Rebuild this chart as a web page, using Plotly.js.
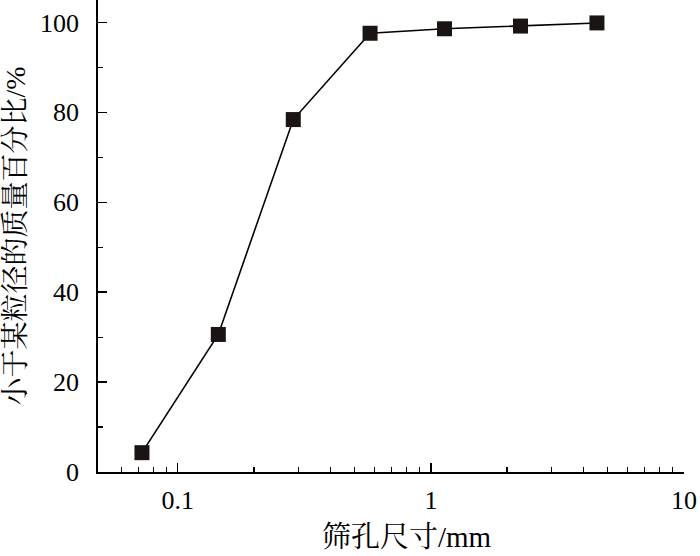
<!DOCTYPE html>
<html>
<head>
<meta charset="utf-8">
<script src="https://cdn.plot.ly/plotly-3.0.1.min.js"></script>
<style>html,body{margin:0;padding:0;background:#fff;}#chart{width:700px;height:556px;}</style>
</head>
<body>
<div id="chart"></div>
<script>
// Sieve opening size (mm) and cumulative passing percentage (%)
const sieveSize = [0.0722, 0.1446, 0.286, 0.575, 1.132, 2.26, 4.53];
const passingPct = [4.3, 30.6, 78.4, 97.6, 98.6, 99.2, 99.9];
const xTickVals = [0.1, 1, 10];
const xTickText = ['0.1', '1', '10'];
const xMinorVals = [0.06,0.07,0.08,0.09,0.2,0.3,0.4,0.5,0.6,0.7,0.8,0.9,2,3,4,5,6,7,8,9];
const yTickVals = [0, 20, 40, 60, 80, 100];
const yMinorVals = [10, 30, 50, 70, 90];
const xTitle = '筛孔尺寸/mm';
const yTitle = '小于某粒径的质量百分比/%';

const fontFam = 'Liberation Serif, Noto Serif CJK SC, Noto Sans CJK SC, serif';

const trace = {
  x: sieveSize, y: passingPct, type: 'scatter', mode: 'lines+markers',
  line: {color: '#000', width: 1.6},
  marker: {symbol: 'square', size: 15, color: '#1a1512', line: {width: 0}},
  cliponaxis: false
};

const layout = {
  width: 700, height: 556,
  margin: {l: 98, r: 16, t: 0, b: 84},
  paper_bgcolor: '#fff', plot_bgcolor: '#fff',
  showlegend: false,
  font: {family: fontFam, size: 26, color: '#000'},
  xaxis: {
    type: 'log', range: [Math.log10(0.0484), 1],
    showgrid: false, zeroline: false,
    showline: true, linecolor: '#000', linewidth: 1.8,
    ticks: 'inside', ticklen: 9, tickwidth: 1.4, tickcolor: '#000',
    tickmode: 'array', tickvals: xTickVals, ticktext: xTickText,
    tickfont: {family: fontFam, size: 26}, ticklabelstandoff: 4,
    minor: {tickmode: 'array', tickvals: xMinorVals, ticks: 'inside', ticklen: 5, tickwidth: 1.2, tickcolor: '#000', showgrid: false}
  },
  yaxis: {
    range: [0, 105],
    showgrid: false, zeroline: false,
    showline: true, linecolor: '#000', linewidth: 1.8,
    ticks: 'inside', ticklen: 9, tickwidth: 1.4, tickcolor: '#000',
    tickmode: 'array', tickvals: yTickVals,
    tickfont: {family: fontFam, size: 26}, ticklabelstandoff: 12,
    minor: {tickmode: 'array', tickvals: yMinorVals, ticks: 'inside', ticklen: 5, tickwidth: 1.2, tickcolor: '#000', showgrid: false},
    title: {text: yTitle, font: {family: fontFam, size: 28}, standoff: 10}
  },
  annotations: [{
    text: xTitle, xref: 'paper', yref: 'paper', x: 0.527, y: -0.1377,
    xanchor: 'center', yanchor: 'middle', showarrow: false,
    font: {family: fontFam, size: 29, color: '#000'}
  }]
};

Plotly.newPlot('chart', [trace], layout, {displayModeBar: false, staticPlot: true});
</script>
</body>
</html>
